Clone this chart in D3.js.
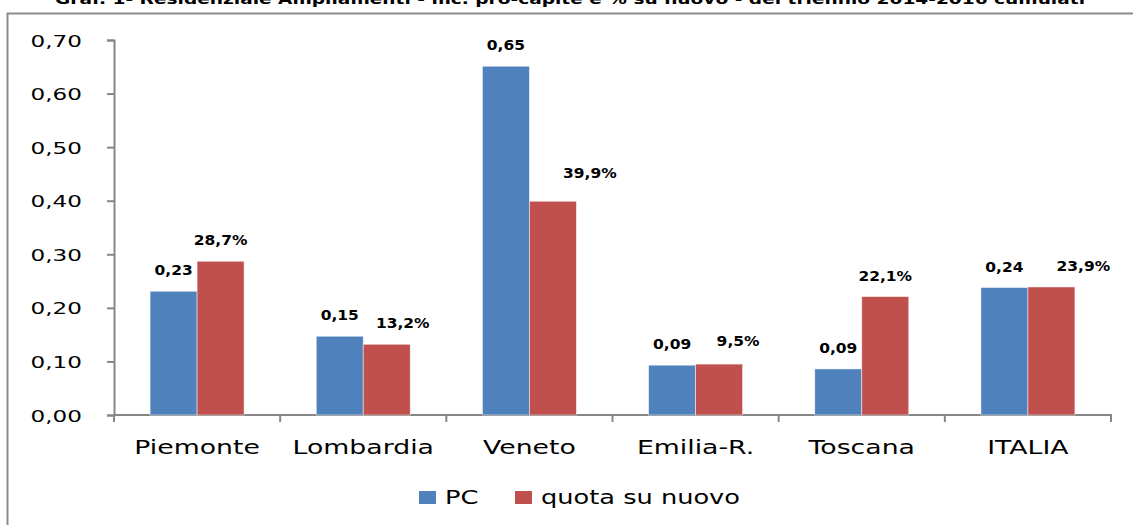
<!DOCTYPE html>
<html>
<head>
<meta charset="utf-8">
<script src="https://cdn.jsdelivr.net/npm/d3@7/dist/d3.min.js"></script>
<style>
  body { margin: 0; background: #fff; }
  text { font-family: "DejaVu Sans", Verdana, sans-serif; fill: #000; }
</style>
</head>
<body>
<svg id="chart" width="1133" height="525"></svg>
<script>
// data
var title = "Graf. 1- Residenziale Ampliamenti - mc. pro-capite e % su nuovo - del triennio 2014-2016 cumulati"
var regions = ["Piemonte", "Lombardia", "Veneto", "Emilia-R.", "Toscana", "ITALIA"]
var pc_values = [0.231, 0.147, 0.651, 0.093, 0.086, 0.238]
var pc_labels = ["0,23", "0,15", "0,65", "0,09", "0,09", "0,24"]
var quota_values = [0.287, 0.132, 0.399, 0.095, 0.221, 0.239]
var quota_labels = ["28,7%", "13,2%", "39,9%", "9,5%", "22,1%", "23,9%"]
var series_names = ["PC", "quota su nuovo"]
var y_ticks = [0, 0.1, 0.2, 0.3, 0.4, 0.5, 0.6, 0.7]

// layout: hand-moved % labels (as in the excel original)
var quota_label_nudge = [[0, 0], [16, 0], [37, -7], [19, -2], [0, 0], [32, 0]]

var colors = ["#4F81BD", "#C0504D"],
    axis_color = "#868686",
    stretch = 1.37   // picture is stretched horizontally

var svg = d3.select("#chart")

function put_text(g, x, y, txt, size, weight, sx, anchor) {
	return g.append("text")
	  .attr("transform", "translate(" + x + "," + y + ") scale(" + sx + ",1)")
	  .attr("text-anchor", anchor || "middle")
	  .style("font-size", size + "px")
	  .style("font-weight", weight || "normal")
	  .text(txt)
}

// title, cut off at the top of the picture (as in the original)
svg.append("text")
  .attr("x", 55).attr("y", 4)
  .attr("textLength", 1030)
  .attr("lengthAdjust", "spacingAndGlyphs")
  .style("font-size", "14px")
  .style("font-weight", "bold")
  .text(title)

// chart border (left + top visible)
svg.append("path")
  .attr("d", "M7.5,525 V13.5 H1133")
  .style("fill", "none")
  .style("stroke", "#8c8c8c")
  .style("stroke-width", 2)

var x_scale = d3.scaleBand().domain(regions).range([114, 1111]).padding(0),
    x_inner = d3.scaleBand().domain([0, 1]).range([0, x_scale.bandwidth()]).paddingInner(0).paddingOuter(0.768),
    y_scale = d3.scaleLinear().domain([0, 0.7]).range([415, 40])

var fmt = d3.formatLocale({decimal: ",", thousands: ".", grouping: [3], currency: ["", "€"]}).format(".2f")

// y axis
var g_y = svg.append("g").attr("transform", "translate(114,0)")
g_y.call(d3.axisLeft(y_scale).tickValues(y_ticks).tickSize(7).tickFormat(""))
g_y.selectAll("path, line").style("stroke", axis_color).style("stroke-width", 2)
y_ticks.forEach(function(t) {
	put_text(svg, 82, y_scale(t) + 6.5, fmt(t), 16.5, "normal", 1.4, "end")
})

// x axis
var cat_ticks = regions.map(function(d) { return x_scale(d) }).concat([x_scale.range()[1]])
svg.append("line")
  .attr("x1", 113).attr("x2", 1112)
  .attr("y1", y_scale(0)).attr("y2", y_scale(0))
  .style("stroke", axis_color).style("stroke-width", 2)
svg.selectAll(".x_tick")
  .data(cat_ticks)
  .enter()
  .append("line")
  .attr("class", "x_tick")
  .attr("x1", d => d).attr("x2", d => d)
  .attr("y1", y_scale(0)).attr("y2", y_scale(0) + 7)
  .style("stroke", axis_color).style("stroke-width", 2)
regions.forEach(function(r) {
	put_text(svg, x_scale(r) + x_scale.bandwidth() / 2, 454, r, 19.5, "normal", stretch)
})

// bars
var bar_data = []
regions.forEach(function(r, i) {
	bar_data.push({region: r, s: 0, v: pc_values[i], label: pc_labels[i], dx: 0, dy: 0})
	bar_data.push({region: r, s: 1, v: quota_values[i], label: quota_labels[i],
		dx: quota_label_nudge[i][0], dy: quota_label_nudge[i][1]})
})

svg.selectAll(".bar")
  .data(bar_data)
  .enter()
  .append("rect")
  .attr("class", "bar")
  .attr("x", d => x_scale(d.region) + x_inner(d.s))
  .attr("y", d => y_scale(d.v))
  .attr("width", x_inner.bandwidth())
  .attr("height", d => y_scale(0) - y_scale(d.v))
  .style("fill", d => colors[d.s])
  .style("stroke", "#ffffff")
  .style("stroke-opacity", 0.6)
  .style("stroke-width", 0.8)

bar_data.forEach(function(d) {
	var cx = x_scale(d.region) + x_inner(d.s) + x_inner.bandwidth() / 2
	put_text(svg, cx + d.dx, y_scale(d.v) - 16 + d.dy, d.label, 13.7, "bold", 1.13)
})

// legend
var legend_items = [{x: 419, tx: 445}, {x: 515, tx: 541}]
legend_items.forEach(function(l, i) {
	svg.append("rect")
	  .attr("x", l.x).attr("y", 491)
	  .attr("width", 17).attr("height", 13)
	  .style("fill", colors[i])
	put_text(svg, l.tx, 504, series_names[i], 19, "normal", 1.35, "start")
})
</script>
</body>
</html>
